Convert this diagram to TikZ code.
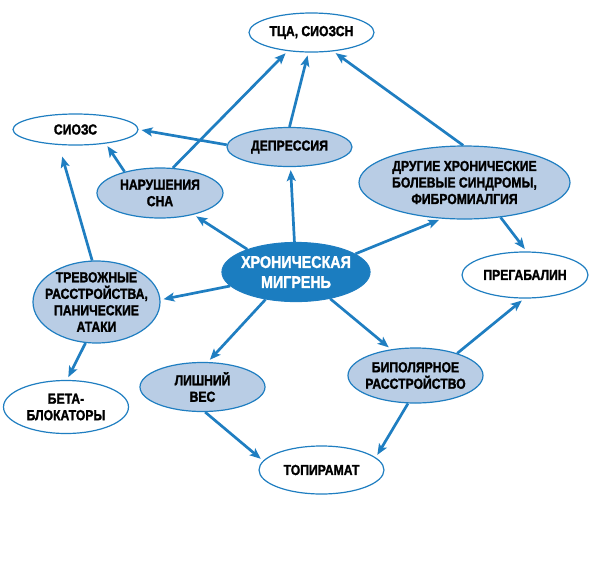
\documentclass[tikz,border=0pt]{standalone}
\usepackage{fontspec}
\setmainfont{Liberation Sans Bold}[FakeStretch=0.84,FakeBold=1.6]
\usetikzlibrary{arrows.meta,backgrounds,shapes.geometric}
\definecolor{lineblue}{HTML}{1F7EC1}
\definecolor{lightfill}{HTML}{B9CDE5}
\definecolor{darkfill}{HTML}{1B7DC0}
\tikzset{
  ell/.style={ellipse, draw=lineblue, line width=1.2pt, inner xsep=-60pt, inner ysep=-40pt,
    align=center, font=\fontsize{14.5}{16.5}\selectfont},
  wnode/.style={ell, fill=white},
  gnode/.style={ell, fill=lightfill},
  cnode/.style={ell, fill=darkfill, text=white, font=\fontsize{17}{20}\selectfont},
  conn/.style={draw=lineblue, line width=2.7pt, -{Stealth[length=11pt,width=9pt,inset=2.5pt]}, shorten >=3pt}
}
\begin{document}
\begin{tikzpicture}[x=1pt,y=-1pt]
\useasboundingbox (0,0) rectangle (590,566);
\node[wnode, minimum width=125pt, minimum height=39pt] (tca) at (311.5,32.5) {ТЦА, СИОЗСН};
\node[wnode, minimum width=125pt, minimum height=31pt] (sioz) at (75.5,129.5) {СИОЗС};
\node[gnode, minimum width=125pt, minimum height=39pt] (dep) at (289.5,147) {ДЕПРЕССИЯ};
\node[gnode, minimum width=126pt, minimum height=50pt] (nar) at (160,193) {НАРУШЕНИЯ\\СНА};
\node[gnode, minimum width=211pt, minimum height=73pt] (dr) at (464.5,182.5) {ДРУГИЕ ХРОНИЧЕСКИЕ\\БОЛЕВЫЕ СИНДРОМЫ,\\ФИБРОМИАЛГИЯ};
\node[cnode, minimum width=148pt, minimum height=59pt] (mig) at (296,272) {ХРОНИЧЕСКАЯ\\МИГРЕНЬ};
\node[wnode, minimum width=126pt, minimum height=46pt] (preg) at (525,275) {ПРЕГАБАЛИН};
\node[gnode, minimum width=127pt, minimum height=82pt] (trev) at (96.5,302) {ТРЕВОЖНЫЕ\\РАССТРОЙСТВА,\\ПАНИЧЕСКИЕ\\АТАКИ};
\node[gnode, minimum width=125pt, minimum height=49pt] (lish) at (202.5,387) {ЛИШНИЙ\\ВЕС};
\node[gnode, minimum width=135pt, minimum height=55pt] (bip) at (415.5,375.5) {БИПОЛЯРНОЕ\\РАССТРОЙСТВО};
\node[wnode, minimum width=125pt, minimum height=53pt] (beta) at (66,407) {БЕТА-\\БЛОКАТОРЫ};
\node[wnode, minimum width=125pt, minimum height=48pt] (top) at (321.5,470) {ТОПИРАМАТ};
\begin{pgfonlayer}{background}
\draw[conn] (mig) -- (dep);
\draw[conn] (mig.155) -- (nar);
\draw[conn] (mig.17) -- (dr.238);
\draw[conn] (mig.192) -- (trev.2);
\draw[conn] (mig.222) -- (lish.78);
\draw[conn] (mig.-38) -- (bip.133);
\draw[conn] (dep.90) -- (tca.261);
\draw[conn] (dep.178) -- (sioz.0);
\draw[conn] (nar.63) -- (tca.218);
\draw[conn] (nar.149) -- (sioz.-25);
\draw[conn] (dr.92) -- (tca.-41);
\draw[conn] (dr.-44) -- (preg.86);
\draw[conn, shorten >=12pt] (trev.96) -- (sioz.223);
\draw[conn] (trev.255) -- (beta.88);
\draw[conn] (lish.276) -- (top.171);
\draw[conn] (bip.255) -- (top.13);
\draw[conn] (bip.28) -- (preg.268);
\end{pgfonlayer}
\end{tikzpicture}
\end{document}
